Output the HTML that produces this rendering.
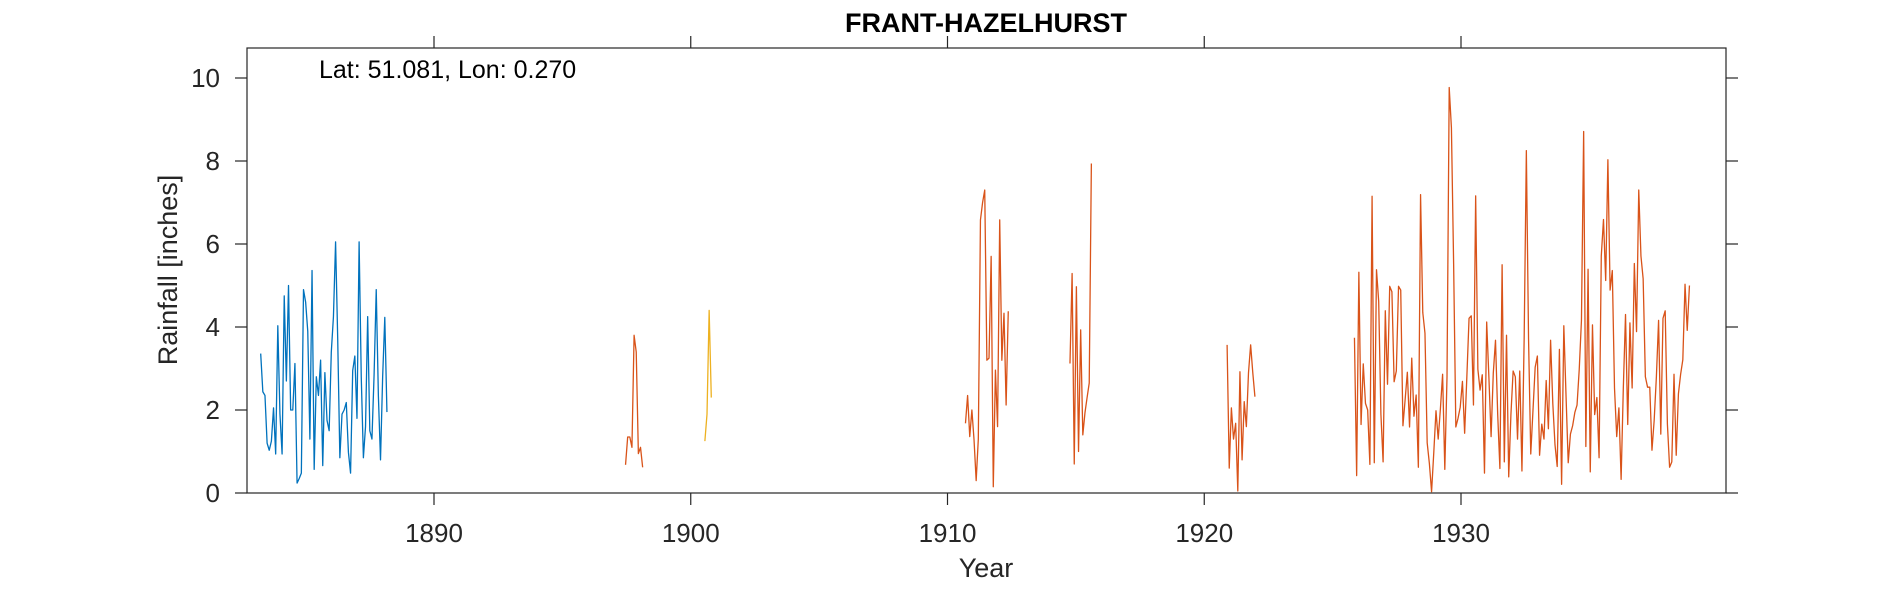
<!DOCTYPE html>
<html><head><meta charset="utf-8"><style>
html,body{margin:0;padding:0;background:#fff;}
svg{display:block;font-family:"Liberation Sans",Helvetica,Arial,sans-serif;}
</style></head><body>
<svg id="chart" width="1890" height="591" viewBox="0 0 1890 591" xmlns="http://www.w3.org/2000/svg">
<text x="986" y="32" text-anchor="middle" font-size="27" font-weight="bold" fill="#000">FRANT-HAZELHURST</text>
<rect x="247" y="48" width="1479" height="445" fill="#fff" stroke="#262626" stroke-width="1.2"/>
<g id="axes"></g>
<g id="series"></g>
<text x="319" y="78" font-size="25" fill="#000">Lat: 51.081, Lon: 0.270</text>
<text x="986" y="577" text-anchor="middle" font-size="27" fill="#262626">Year</text>
<text transform="translate(177,270) rotate(-90)" text-anchor="middle" font-size="27" fill="#262626">Rainfall [inches]</text>
</svg>
<script>
const xTicks = [1890, 1900, 1910, 1920, 1930];
const yTicks = [0, 2, 4, 6, 8, 10];
const blueStart = 1883.25;
const blueValues = [3.36,2.44,2.35,1.2,1.03,1.25,2.05,0.94,4.03,1.9,0.94,4.75,2.7,5.0,2.0,2.0,3.12,0.24,0.35,0.48,4.9,4.6,3.9,1.3,5.36,0.57,2.8,2.35,3.2,0.66,2.9,1.75,1.5,3.4,4.25,6.05,3.7,0.85,1.9,2.0,2.18,0.98,0.48,2.95,3.3,1.8,6.05,2.8,0.85,1.6,4.25,1.5,1.3,2.85,4.9,2.35,0.8,2.8,4.23,1.95];
const orangeAStart = 1897.46;
const orangeAValues = [0.68,1.35,1.35,1.1,3.8,3.4,0.95,1.1,0.62];
const yellowStart = 1900.55;
const yellowValues = [1.25,1.9,4.4,2.3];
const orangeBStart = 1910.7;
const orangeBValues = [1.68,2.35,1.36,2.0,1.28,0.3,1.3,6.58,7.0,7.3,3.2,3.25,5.7,0.15,2.96,1.6,6.58,3.2,4.33,2.12,4.38];
const orangeCStart = 1914.77;
const orangeCValues = [3.12,5.29,0.7,4.97,1.0,3.93,1.4,1.93,2.3,2.65,7.94];
const orangeDStart = 1920.89;
const orangeDValues = [3.57,0.6,2.05,1.3,1.68,0.05,2.92,0.8,2.2,1.6,2.9,3.57,2.9,2.32];
const orangeEStart = 1925.85;
const orangeEValues = [3.74,0.42,5.32,1.65,3.11,2.16,2.0,0.69,7.15,0.73,5.38,4.62,1.9,0.75,4.39,2.62,4.98,4.85,2.68,2.94,4.98,4.89,1.62,2.25,2.91,1.59,3.25,1.85,2.36,0.62,7.19,4.35,3.85,1.21,0.71,0.03,0.98,1.98,1.3,2.03,2.86,0.57,2.8,9.77,8.8,5.53,1.59,1.8,2.07,2.69,1.44,2.8,4.21,4.27,2.12,7.16,2.98,2.48,2.85,0.48,4.12,2.8,1.36,2.89,3.68,1.89,0.59,5.5,0.75,3.8,0.39,1.89,2.94,2.8,1.3,2.94,0.53,3.71,8.25,3.71,0.94,1.98,3.03,3.3,0.91,1.66,1.3,2.71,1.55,3.68,2.16,1.16,0.64,3.46,0.21,4.03,2.35,0.73,1.42,1.62,1.94,2.12,2.98,4.16,8.71,1.12,5.39,0.51,4.05,1.89,2.3,0.85,5.71,6.59,5.12,8.03,4.89,5.36,2.53,1.36,2.05,0.33,2.53,4.3,1.65,4.1,2.53,5.53,3.89,7.3,5.71,5.16,2.8,2.55,2.55,1.03,1.75,2.8,4.16,1.42,4.21,4.39,1.66,0.62,0.75,2.86,0.91,2.39,2.86,3.21,5.03,3.92,5.0];

const NS = "http://www.w3.org/2000/svg";
const L = 247, R = 1726, T = 48, B = 493;
function xs(yr){ return 434 + (yr - 1890) * 25.675; }
function ys(v){ return B - v * 41.5; }
const axes = document.getElementById('axes');
function mk(tag, attrs, parent){ const e = document.createElementNS(NS, tag); for (const k in attrs) e.setAttribute(k, attrs[k]); parent.appendChild(e); return e; }

xTicks.forEach(t => {
  const x = xs(t);
  const g = mk('g', {}, axes);
  
  
  mk('line', {x1:x, x2:x, y1:B, y2:B+12, stroke:'#262626', 'stroke-width':1.2}, g);
  mk('line', {x1:x, x2:x, y1:T, y2:T-12, stroke:'#262626', 'stroke-width':1.2}, g);
  const tx = mk('text', {x:x, y:542, 'text-anchor':'middle', 'font-size':26, fill:'#262626'}, g);
  tx.textContent = t;
});
yTicks.forEach(t => {
  const y = ys(t);
  const g = mk('g', {}, axes);
  
  
  mk('line', {x1:L, x2:L-12, y1:y, y2:y, stroke:'#262626', 'stroke-width':1.2}, g);
  mk('line', {x1:R, x2:R+12, y1:y, y2:y, stroke:'#262626', 'stroke-width':1.2}, g);
  const tx = mk('text', {x:220, y:y+9, 'text-anchor':'end', 'font-size':26, fill:'#262626'}, g);
  tx.textContent = t;
});

const series = document.getElementById('series');
function drawLine(start, vals, color, name, step){
  const st = step || 1/12;
  const pts = vals.map((v, i) => xs(start + i * st).toFixed(2) + ',' + ys(v).toFixed(2)).join(' ');
  const p = mk('polyline', {points: pts, fill:'none', stroke: color, 'stroke-width':1.3, 'stroke-linejoin':'round'}, series);
  
  
}
drawLine(blueStart, blueValues, '#0072BD', 'series-1883-1888');
drawLine(orangeAStart, orangeAValues, '#D95319', 'series-1897-1898');
drawLine(yellowStart, yellowValues, '#EDB120', 'series-1900');
drawLine(orangeBStart, orangeBValues, '#D95319', 'series-1910-1912');
drawLine(orangeCStart, orangeCValues, '#D95319', 'series-1914-1915');
drawLine(orangeDStart, orangeDValues, '#D95319', 'series-1920-1921');
drawLine(orangeEStart, orangeEValues, '#D95319', 'series-1926-1938', 1/11.65);
</script>
</body></html>
